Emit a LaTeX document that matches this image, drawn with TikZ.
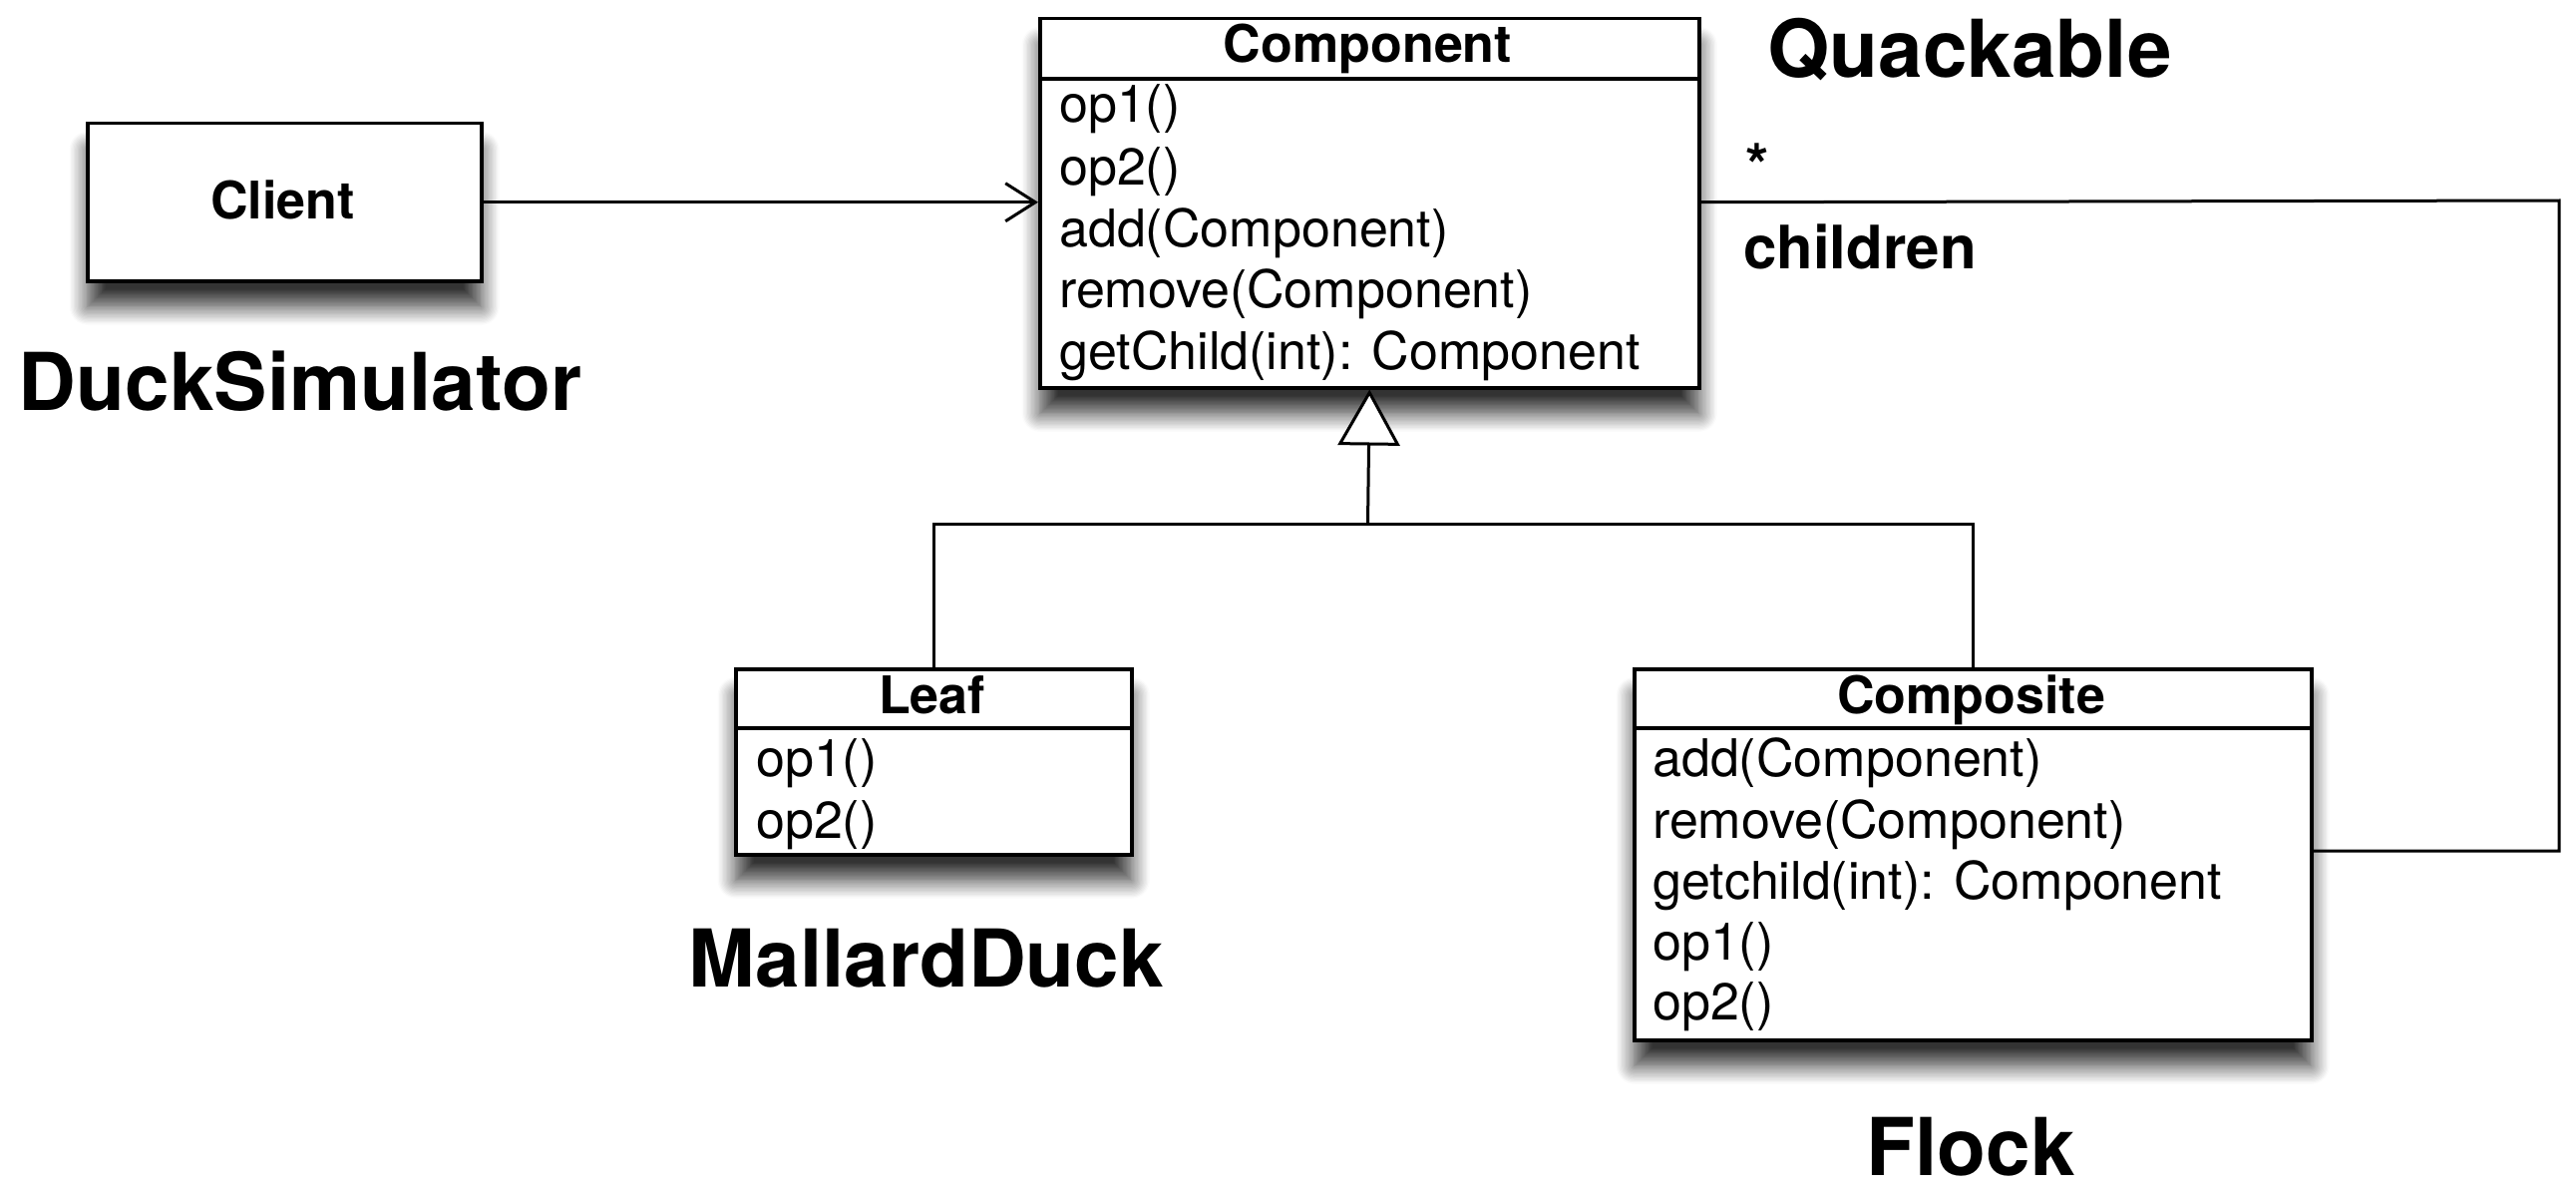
\documentclass[tikz,border=0pt]{standalone}
\usepackage{fontspec}
\setmainfont{TeX Gyre Heros}
\usetikzlibrary{arrows.meta,shadows.blur}
\begin{document}
\begin{tikzpicture}[x=1pt,y=-1pt,
  box/.style={draw, line width=3.5pt, fill=white, anchor=north west, inner sep=0pt,
    blur shadow={shadow xshift=0pt, shadow yshift=-26pt, shadow blur radius=18pt, shadow blur steps=14, shadow opacity=80}},
  member/.style={anchor=base west, inner sep=0pt, font=\fontsize{52}{60}\selectfont},
  title/.style={anchor=base, inner sep=0pt, font=\fontsize{52}{60}\selectfont\bfseries},
  big/.style={anchor=base, inner sep=0pt, font=\fontsize{80}{90}\selectfont\bfseries},
  role/.style={anchor=base west, inner sep=0pt, font=\fontsize{60}{70}\selectfont\bfseries},
  conn/.style={line width=3pt},
  sep/.style={line width=3.5pt},
]
\useasboundingbox (0,0) rectangle (2583,1196);

% Boxes
\node[box, minimum width=661pt, minimum height=370pt] (comp) at (1041,17) {};
\node[box, minimum width=395pt, minimum height=158pt] (client) at (86,122) {};
\node[box, minimum width=397pt, minimum height=186pt] (leaf) at (736,669) {};
\node[box, minimum width=679pt, minimum height=372pt] (compo) at (1637,669) {};

% Header separators
\draw[sep] ([yshift=-62pt]comp.north west) -- ([yshift=-62pt]comp.north east);
\draw[sep] ([yshift=-61pt]leaf.north west) -- ([yshift=-61pt]leaf.north east);
\draw[sep] ([yshift=-61pt]compo.north west) -- ([yshift=-61pt]compo.north east);

% Component texts
\node[title] (compT) at (1371.5,63) {Component};
\node[member] (c1) at (1062,123) {op1()};
\node[member] (c2) at (1062,185) {op2()};
\node[member] (c3) at (1062,247) {add(Component)};
\node[member] (c4) at (1062,308) {remove(Component)};
\node[member] (c5) at (1062,370) {getChild(int): Component};

% Client
\node[title] (clientT) at (283.5,219) {Client};

% Leaf
\node[title] (leafT) at (934.5,715) {Leaf};
\node[member] (l1) at (758,778) {op1()};
\node[member] (l2) at (758,840) {op2()};

% Composite
\node[title] (compoT) at (1976.5,715) {Composite};
\node[member] (k1) at (1657,778) {add(Component)};
\node[member] (k2) at (1657,840) {remove(Component)};
\node[member] (k3) at (1657,901) {getchild(int): Component};
\node[member] (k4) at (1657,962) {op1()};
\node[member] (k5) at (1657,1022) {op2()};

% Big labels
\node[big] (duck) at (301,411) {DuckSimulator};
\node[big] (quack) at (1975,78) {Quackable};
\node[big] (mallard) at (929,989) {MallardDuck};
\node[big] (flock) at (1976,1178) {Flock};
\node[role] (star) at (1750,187) {*};
\node[role] (children) at (1748,269) {children};

% Client -> Component
\draw[conn, -{Straight Barb[length=30pt,width=38pt]}] (client.east) -- (client.east -| comp.west);

% Association children
\coordinate (r1) at (2566,201);
\coordinate (r2) at (2566,853);
\draw[conn] (client.east -| comp.east) -- (r1) -- (r2) -- (r2 -| compo.east);

% Generalization
\coordinate (gj) at (1371.5,525);
\draw[conn] (leaf.north) |- (gj) -| (compo.north);
\draw[conn, -{Triangle[open, length=56pt, width=62pt, fill=white]}] (gj) -- (comp.south);
\end{tikzpicture}
\end{document}
